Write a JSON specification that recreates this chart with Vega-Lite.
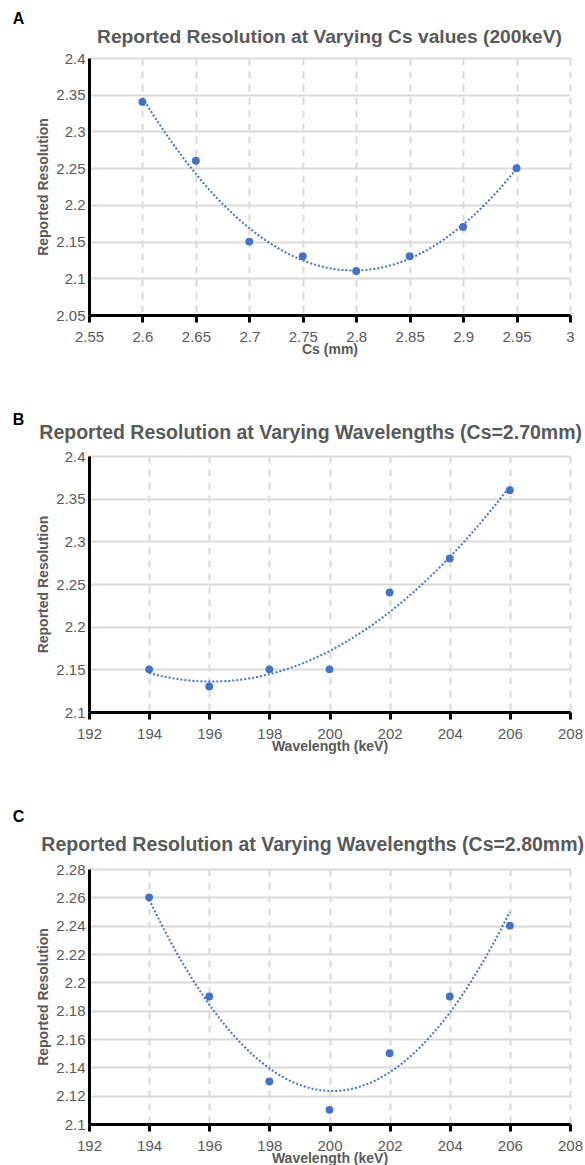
{
  "$schema": "https://vega.github.io/schema/vega-lite/v6.json",
  "padding": {"left": 12, "top": 10, "right": 0, "bottom": 0},
  "background": "white",
  "config": {
    "view": {"stroke": null},
    "font": "Liberation Sans",
    "axis": {
      "labelFont": "Liberation Sans",
      "labelFontSize": 15,
      "labelColor": "#595959",
      "titleFont": "Liberation Sans",
      "titleFontSize": 14,
      "titleFontWeight": "bold",
      "titleColor": "#595959",
      "domainColor": "#000000",
      "domainWidth": 3,
      "gridColor": "#d9d9d9",
      "gridWidth": 2,
      "labelOverlap": false
    },
    "axisX": {"tickColor": "#000000", "tickWidth": 3, "tickSize": 7, "labelPadding": 7, "gridDash": [7, 6], "labelFlush": false, "titlePadding": -2, "labelDx": 2},
    "axisY": {"ticks": false, "labelPadding": 4, "titlePadding": 5}
  },
  "datasets": {
    "cs": [
      {"cs": 2.6, "resolution": 2.34},
      {"cs": 2.65, "resolution": 2.26},
      {"cs": 2.7, "resolution": 2.15},
      {"cs": 2.75, "resolution": 2.13},
      {"cs": 2.8, "resolution": 2.11},
      {"cs": 2.85, "resolution": 2.13},
      {"cs": 2.9, "resolution": 2.17},
      {"cs": 2.95, "resolution": 2.25}
    ],
    "wl270": [
      {"kev": 194, "resolution": 2.15},
      {"kev": 196, "resolution": 2.13},
      {"kev": 198, "resolution": 2.15},
      {"kev": 200, "resolution": 2.15},
      {"kev": 202, "resolution": 2.24},
      {"kev": 204, "resolution": 2.28},
      {"kev": 206, "resolution": 2.36}
    ],
    "wl280": [
      {"kev": 194, "resolution": 2.26},
      {"kev": 196, "resolution": 2.19},
      {"kev": 198, "resolution": 2.13},
      {"kev": 200, "resolution": 2.11},
      {"kev": 202, "resolution": 2.15},
      {"kev": 204, "resolution": 2.19},
      {"kev": 206, "resolution": 2.24}
    ]
  },
  "spacing": 55,
  "vconcat": [
    {
      "title": {"text": "A", "anchor": "start", "fontSize": 16, "fontWeight": "bold", "color": "#000000", "dx": -24, "offset": 1},
      "vconcat": [
        {
          "title": {"text": "Reported Resolution at Varying Cs values (200keV)", "fontSize": 19.2, "fontWeight": "bold", "color": "#595959", "offset": 4},
          "width": 481,
          "height": 257,
          "data": {"name": "cs"},
          "encoding": {
            "x": {"field": "cs", "type": "quantitative", "scale": {"domain": [2.55, 3], "nice": false, "zero": false},
                  "axis": {"values": [2.55, 2.6, 2.65, 2.7, 2.75, 2.8, 2.85, 2.9, 2.95, 3], "format": "~g", "title": "Cs (mm)"}},
            "y": {"field": "resolution", "type": "quantitative", "scale": {"domain": [2.05, 2.4], "nice": false, "zero": false},
                  "axis": {"values": [2.05, 2.1, 2.15, 2.2, 2.25, 2.3, 2.35, 2.4], "format": "~g", "title": "Reported Resolution"}}
          },
          "layer": [
            {"transform": [{"regression": "resolution", "on": "cs", "method": "poly", "order": 2}],
             "mark": {"type": "line", "color": "#4472c4", "strokeWidth": 2, "strokeDash": [2, 2]}},
            {"mark": {"type": "circle", "size": 62, "color": "#4472c4", "opacity": 1}}
          ]
        }
      ]
    },
    {
      "title": {"text": "B", "anchor": "start", "fontSize": 16, "fontWeight": "bold", "color": "#000000", "dx": -24, "offset": -5},
      "vconcat": [
        {
          "title": {"text": "Reported Resolution at Varying Wavelengths (Cs=2.70mm)", "fontSize": 19.5, "fontWeight": "bold", "color": "#595959", "anchor": "end", "frame": "group", "dx": 12, "offset": 6},
          "width": 481,
          "height": 256,
          "data": {"name": "wl270"},
          "encoding": {
            "x": {"field": "kev", "type": "quantitative", "scale": {"domain": [192, 208], "nice": false, "zero": false},
                  "axis": {"values": [192, 194, 196, 198, 200, 202, 204, 206, 208], "format": "~g", "title": "Wavelength (keV)"}},
            "y": {"field": "resolution", "type": "quantitative", "scale": {"domain": [2.1, 2.4], "nice": false, "zero": false},
                  "axis": {"values": [2.1, 2.15, 2.2, 2.25, 2.3, 2.35, 2.4], "format": "~g", "title": "Reported Resolution"}}
          },
          "layer": [
            {"transform": [{"regression": "resolution", "on": "kev", "method": "poly", "order": 2}],
             "mark": {"type": "line", "color": "#4472c4", "strokeWidth": 2, "strokeDash": [2, 2]}},
            {"mark": {"type": "circle", "size": 62, "color": "#4472c4", "opacity": 1}}
          ]
        }
      ]
    },
    {
      "title": {"text": "C", "anchor": "start", "fontSize": 16, "fontWeight": "bold", "color": "#000000", "dx": -24, "offset": 10},
      "vconcat": [
        {
          "title": {"text": "Reported Resolution at Varying Wavelengths (Cs=2.80mm)", "fontSize": 19.5, "fontWeight": "bold", "color": "#595959", "anchor": "end", "frame": "group", "dx": 14, "offset": 7},
          "width": 481,
          "height": 255,
          "data": {"name": "wl280"},
          "encoding": {
            "x": {"field": "kev", "type": "quantitative", "scale": {"domain": [192, 208], "nice": false, "zero": false},
                  "axis": {"values": [192, 194, 196, 198, 200, 202, 204, 206, 208], "format": "~g", "title": "Wavelength (keV)"}},
            "y": {"field": "resolution", "type": "quantitative", "scale": {"domain": [2.1, 2.28], "nice": false, "zero": false},
                  "axis": {"values": [2.1, 2.12, 2.14, 2.16, 2.18, 2.2, 2.22, 2.24, 2.26, 2.28], "format": "~g", "title": "Reported Resolution"}}
          },
          "layer": [
            {"transform": [{"regression": "resolution", "on": "kev", "method": "poly", "order": 2}],
             "mark": {"type": "line", "color": "#4472c4", "strokeWidth": 2, "strokeDash": [2, 2]}},
            {"mark": {"type": "circle", "size": 62, "color": "#4472c4", "opacity": 1}}
          ]
        }
      ]
    }
  ]
}
